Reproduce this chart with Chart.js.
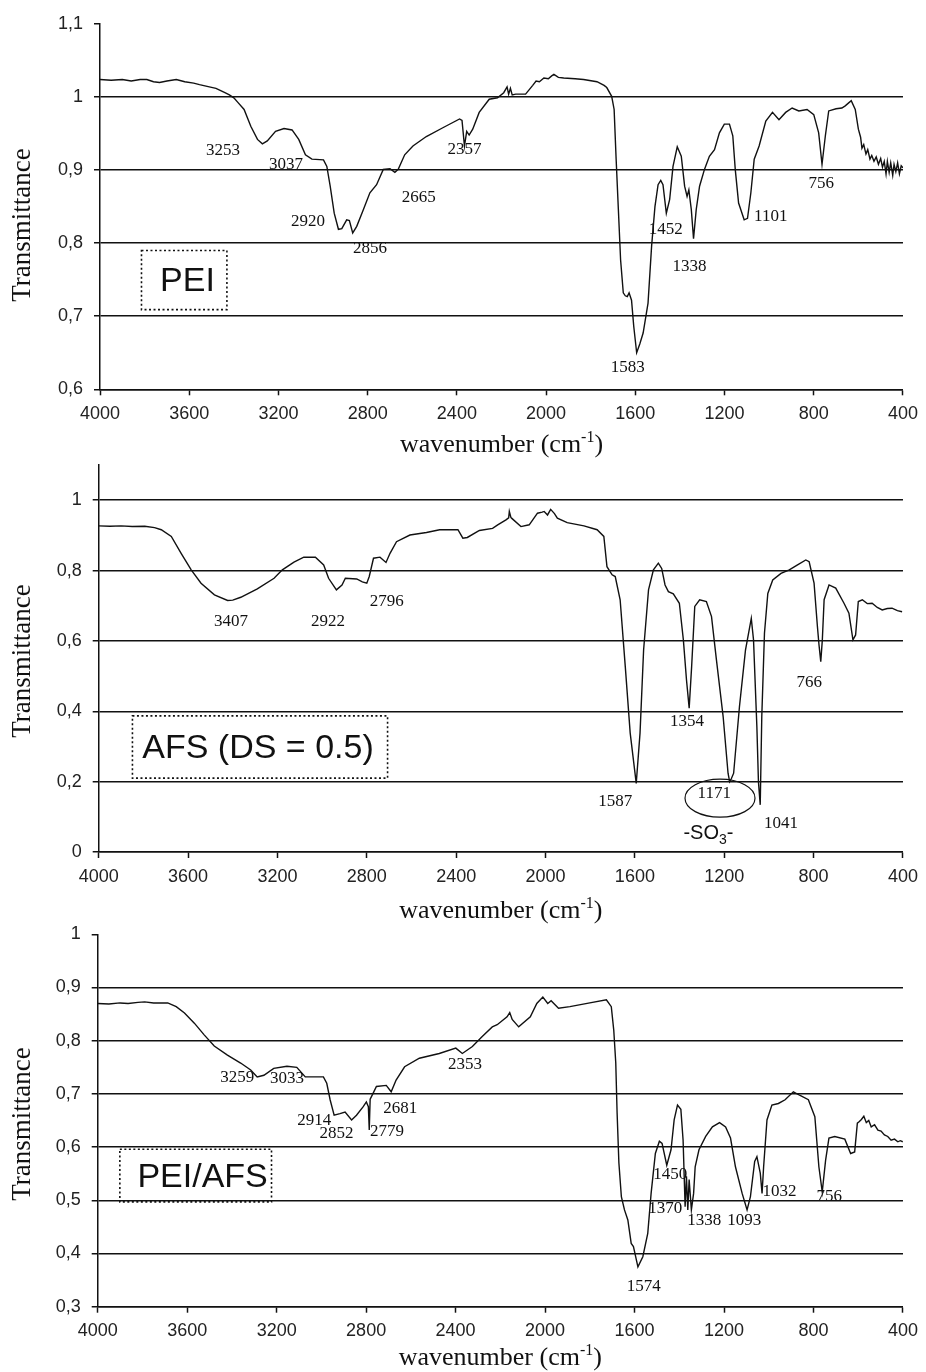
<!DOCTYPE html>
<html>
<head>
<meta charset="utf-8">
<script src="https://cdn.jsdelivr.net/npm/chart.js@4.4.1/dist/chart.umd.min.js"></script>
<style>
  html, body { margin: 0; padding: 0; background: #fff; }
  body { width: 926px; height: 1372px; position: relative; overflow: hidden; }
  .panel { position: absolute; left: 0; width: 926px; }
  canvas { display: block; }
</style>
</head>
<body>
<div class="panel" style="top:0"><canvas id="peiChart" width="926" height="462"></canvas></div>
<div class="panel" style="top:440px"><canvas id="afsChart" width="926" height="484"></canvas></div>
<div class="panel" style="top:908px"><canvas id="blendChart" width="926" height="464"></canvas></div>
<script>
// ---- spectrum data (wavenumber cm-1 / transmittance) ----
const xTicks = [4000, 3600, 3200, 2800, 2400, 2000, 1600, 1200, 800, 400];

// PEI
const peiWave = [4000, 3950, 3900, 3860, 3820, 3790, 3760, 3733, 3700, 3658, 3620, 3580, 3554, 3510, 3480, 3440, 3420, 3400, 3380, 3354,
  3324, 3294, 3272, 3250, 3213, 3175, 3139, 3109, 3079, 3050, 2998, 2983, 2968, 2950, 2931, 2916, 2894, 2882, 2867, 2849,
  2819, 2790, 2760, 2730, 2700, 2678, 2663, 2634, 2597, 2537, 2463, 2388, 2377, 2366, 2356, 2345, 2329, 2300, 2255, 2218,
  2190, 2175, 2168, 2160, 2152, 2136, 2092, 2060, 2045, 2030, 2010, 1990, 1975, 1965, 1945, 1921, 1870, 1832, 1772, 1740,
  1728, 1706, 1695, 1686, 1676, 1666, 1654, 1645, 1636, 1628, 1617, 1607, 1594, 1580, 1565, 1543, 1527, 1512, 1498, 1486,
  1476, 1461, 1446, 1431, 1412, 1394, 1379, 1368, 1360, 1349, 1339, 1327, 1312, 1290, 1268, 1245, 1223, 1201, 1178, 1163,
  1152, 1137, 1112, 1097, 1082, 1067, 1045, 1015, 985, 956, 926, 897, 867, 830, 800, 778, 763, 748, 733, 700,
  674, 659, 632, 614, 600, 590, 584, 576, 566, 558, 548, 540, 530, 520, 510, 500, 492, 484, 476, 470,
  462, 455, 446, 440, 432, 424, 416, 408, 400];
const peiT = [1.024, 1.023, 1.024, 1.022, 1.024, 1.024, 1.021, 1.020, 1.022, 1.024, 1.021, 1.019, 1.017, 1.014, 1.012, 1.006, 1.003, 0.999, 0.992, 0.983,
  0.960, 0.942, 0.936, 0.940, 0.953, 0.957, 0.955, 0.942, 0.921, 0.915, 0.914, 0.905, 0.878, 0.841, 0.819, 0.820, 0.832, 0.831, 0.814, 0.823,
  0.846, 0.869, 0.880, 0.901, 0.902, 0.897, 0.901, 0.921, 0.933, 0.946, 0.958, 0.970, 0.968, 0.933, 0.953, 0.948, 0.956, 0.979, 0.997, 0.999,
  1.006, 1.014, 1.004, 1.012, 1.003, 1.004, 1.004, 1.016, 1.022, 1.021, 1.026, 1.025, 1.029, 1.031, 1.027, 1.026, 1.025, 1.024, 1.021, 1.016,
  1.013, 1.001, 0.983, 0.915, 0.846, 0.777, 0.732, 0.728, 0.727, 0.732, 0.722, 0.686, 0.650, 0.662, 0.677, 0.718, 0.796, 0.850, 0.880, 0.886,
  0.880, 0.841, 0.860, 0.905, 0.932, 0.919, 0.878, 0.864, 0.873, 0.846, 0.806, 0.846, 0.878, 0.901, 0.919, 0.928, 0.951, 0.963, 0.963, 0.947,
  0.901, 0.855, 0.832, 0.834, 0.869, 0.915, 0.933, 0.967, 0.979, 0.969, 0.979, 0.985, 0.981, 0.983, 0.976, 0.951, 0.908, 0.947, 0.981, 0.984,
  0.985, 0.988, 0.995, 0.983, 0.956, 0.945, 0.930, 0.935, 0.922, 0.928, 0.915, 0.920, 0.912, 0.918, 0.908, 0.916, 0.904, 0.912, 0.895, 0.912,
  0.897, 0.910, 0.893, 0.908, 0.898, 0.910, 0.895, 0.906, 0.903];

// AFS (DS = 0.5)
const afsWave = [4000, 3950, 3900, 3850, 3794, 3750, 3720, 3675, 3631, 3586, 3542, 3482, 3423, 3400, 3364, 3290, 3215, 3178, 3126, 3082,
  3030, 2993, 2971, 2936, 2911, 2896, 2845, 2820, 2800, 2789, 2770, 2741, 2714, 2696, 2667, 2607, 2533, 2474, 2392, 2370,
  2350, 2296, 2237, 2214, 2177, 2165, 2162, 2155, 2152, 2110, 2073, 2036, 2015, 2006, 1991, 1977, 1960, 1947, 1903, 1828,
  1769, 1739, 1725, 1702, 1688, 1666, 1643, 1621, 1594, 1577, 1561, 1539, 1517, 1495, 1480, 1465, 1450, 1428, 1401, 1383,
  1369, 1357, 1346, 1332, 1310, 1280, 1257, 1235, 1205, 1183, 1176, 1168, 1158, 1132, 1105, 1079, 1069, 1054, 1047, 1039,
  1032, 1020, 1005, 983, 946, 909, 872, 835, 820, 798, 783, 776, 768, 761, 753, 731, 701, 664, 642, 624,
  612, 600, 582, 560, 538, 515, 493, 470, 449, 425, 404];
const afsT = [0.927, 0.926, 0.927, 0.925, 0.926, 0.922, 0.916, 0.897, 0.849, 0.802, 0.764, 0.731, 0.715, 0.716, 0.724, 0.748, 0.778, 0.802, 0.824, 0.838,
  0.838, 0.816, 0.778, 0.745, 0.759, 0.778, 0.776, 0.768, 0.764, 0.783, 0.835, 0.838, 0.823, 0.849, 0.882, 0.901, 0.908, 0.916, 0.916, 0.892,
  0.894, 0.914, 0.920, 0.930, 0.944, 0.950, 0.968, 0.951, 0.949, 0.925, 0.930, 0.963, 0.966, 0.968, 0.958, 0.974, 0.962, 0.949, 0.936, 0.927,
  0.916, 0.897, 0.811, 0.788, 0.783, 0.717, 0.527, 0.338, 0.195, 0.338, 0.574, 0.745, 0.802, 0.821, 0.806, 0.759, 0.740, 0.734, 0.707, 0.603,
  0.489, 0.409, 0.527, 0.698, 0.717, 0.712, 0.669, 0.546, 0.385, 0.224, 0.200, 0.209, 0.224, 0.413, 0.574, 0.664, 0.603, 0.356, 0.200, 0.134,
  0.385, 0.622, 0.735, 0.773, 0.792, 0.802, 0.816, 0.830, 0.825, 0.764, 0.641, 0.589, 0.541, 0.603, 0.717, 0.759, 0.750, 0.707, 0.679, 0.603,
  0.617, 0.712, 0.717, 0.706, 0.707, 0.695, 0.688, 0.692, 0.693, 0.686, 0.683];

// PEI/AFS
const blendWave = [4000, 3950, 3900, 3864, 3820, 3790, 3750, 3687, 3649, 3612, 3568, 3524, 3479, 3420, 3361, 3316, 3287, 3257, 3213, 3154,
  3110, 3072, 2991, 2976, 2961, 2943, 2917, 2894, 2865, 2843, 2813, 2799, 2790, 2786, 2782, 2769, 2754, 2710, 2688, 2666,
  2628, 2562, 2473, 2399, 2370, 2325, 2281, 2236, 2214, 2170, 2158, 2147, 2118, 2066, 2037, 2010, 1988, 1973, 1940, 1889,
  1800, 1726, 1704, 1693, 1684, 1678, 1670, 1659, 1645, 1630, 1615, 1605, 1585, 1563, 1541, 1526, 1507, 1489, 1477, 1456,
  1437, 1423, 1408, 1393, 1383, 1374, 1368, 1362, 1356, 1346, 1336, 1329, 1312, 1282, 1252, 1220, 1193, 1171, 1149, 1119,
  1097, 1082, 1063, 1053, 1038, 1030, 1023, 1008, 986, 957, 927, 890, 860, 823, 794, 776, 761, 746, 731, 705,
  660, 634, 616, 604, 595, 586, 575, 564, 553, 542, 527, 512, 498, 483, 468, 453, 438, 423, 412, 401];
const blendT = [0.870, 0.869, 0.871, 0.870, 0.872, 0.873, 0.871, 0.871, 0.864, 0.852, 0.833, 0.811, 0.790, 0.773, 0.758, 0.745, 0.732, 0.735, 0.748, 0.752,
  0.750, 0.732, 0.732, 0.720, 0.689, 0.660, 0.663, 0.666, 0.651, 0.660, 0.676, 0.685, 0.676, 0.632, 0.690, 0.701, 0.714, 0.716, 0.704, 0.726,
  0.751, 0.767, 0.776, 0.786, 0.776, 0.789, 0.808, 0.826, 0.830, 0.845, 0.853, 0.840, 0.826, 0.845, 0.870, 0.882, 0.870, 0.875, 0.861, 0.864,
  0.871, 0.877, 0.864, 0.820, 0.758, 0.664, 0.570, 0.507, 0.482, 0.463, 0.419, 0.413, 0.375, 0.394, 0.438, 0.513, 0.588, 0.611, 0.607, 0.566,
  0.595, 0.651, 0.679, 0.671, 0.613, 0.488, 0.545, 0.482, 0.539, 0.482, 0.513, 0.563, 0.595, 0.620, 0.638, 0.646, 0.638, 0.617, 0.563, 0.513,
  0.482, 0.507, 0.573, 0.582, 0.551, 0.513, 0.563, 0.651, 0.679, 0.682, 0.689, 0.704, 0.697, 0.689, 0.657, 0.563, 0.516, 0.575, 0.617, 0.620,
  0.615, 0.588, 0.591, 0.645, 0.648, 0.652, 0.658, 0.646, 0.650, 0.638, 0.642, 0.632, 0.630, 0.623, 0.620, 0.613, 0.615, 0.610, 0.612, 0.610];

// ---- peak annotations (label text, wavenumber, transmittance where it sits) ----
const peiPeakText = ['3253', '3037', '2920', '2856', '2665', '2357', '1583', '1452', '1338', '1101', '756'];
const peiPeakWave = [3448, 3166, 3068, 2790, 2571, 2366, 1634, 1464, 1357, 993, 766];
const peiPeakT = [0.927, 0.908, 0.829, 0.792, 0.863, 0.928, 0.630, 0.818, 0.768, 0.836, 0.881];

const afsPeakText = ['3407', '2922', '2796', '1587', '1171', '1354', '1041', '766'];
const afsPeakWave = [3408, 2974, 2711, 1688, 1245, 1367, 946, 820];
const afsPeakT = [0.655, 0.655, 0.712, 0.143, 0.167, 0.372, 0.082, 0.482];

const blendPeakText = ['3259', '3033', '2914', '2852', '2779', '2681', '2353', '1574', '1450', '1370', '1338', '1093', '1032', '756'];
const blendPeakWave = [3376, 3154, 3032, 2932, 2707, 2648, 2358, 1559, 1440, 1463, 1288, 1110, 952, 730];
const blendPeakT = [0.731, 0.729, 0.650, 0.626, 0.629, 0.672, 0.756, 0.338, 0.549, 0.485, 0.462, 0.462, 0.516, 0.507];

function fmtComma(v) {
    const r = Math.round(v * 10) / 10;
    return Number.isInteger(r) ? String(r) : r.toFixed(1).replace('.', ',');
}

// draws peak numbers, sample box, axis titles
function makeNotesPlugin(notes) {
    return {
        id: 'notes',
        afterDraw(chart) {
            const { ctx, scales: { x, y }, chartArea } = chart;
            ctx.save();
            ctx.fillStyle = '#111';
            ctx.strokeStyle = '#111';

            // peak numbers
            ctx.font = '17px "Liberation Serif", "Times New Roman", serif';
            ctx.textAlign = 'center';
            ctx.textBaseline = 'middle';
            notes.peakText.forEach((t, i) => {
                ctx.fillText(t, x.getPixelForValue(notes.peakWave[i]), y.getPixelForValue(notes.peakT[i]));
            });

            // dotted sample box
            const b = notes.box;
            const bx1 = x.getPixelForValue(b.w1), bx2 = x.getPixelForValue(b.w2);
            const by1 = y.getPixelForValue(b.t1), by2 = y.getPixelForValue(b.t2);
            ctx.lineWidth = 1.6;
            ctx.setLineDash([2, 2.5]);
            ctx.strokeRect(bx1, by1, bx2 - bx1, by2 - by1);
            ctx.setLineDash([]);
            ctx.font = '34px "Liberation Sans", Arial, sans-serif';
            ctx.fillText(b.text, x.getPixelForValue(b.tw), y.getPixelForValue(b.tt));

            // -SO3- group marker (AFS only)
            if (notes.ellipse) {
                const e = notes.ellipse;
                ctx.lineWidth = 1.2;
                ctx.beginPath();
                ctx.ellipse(x.getPixelForValue(e.w), y.getPixelForValue(e.t), 35, 19, 0, 0, Math.PI * 2);
                ctx.stroke();
                const sx = x.getPixelForValue(e.lw), sy = y.getPixelForValue(e.lt);
                const bigFont = '20px "Liberation Sans", Arial, sans-serif';
                const subFont = '14px "Liberation Sans", Arial, sans-serif';
                ctx.font = bigFont;
                const w1 = ctx.measureText('-SO').width;
                const w3 = ctx.measureText('-').width;
                ctx.font = subFont;
                const w2 = ctx.measureText('3').width;
                const cx = sx - (w1 + w2 + w3) / 2;
                ctx.textAlign = 'left';
                ctx.font = bigFont;
                ctx.fillText('-SO', cx, sy);
                ctx.font = subFont;
                ctx.fillText('3', cx + w1, sy + 7);
                ctx.font = bigFont;
                ctx.fillText('-', cx + w1 + w2, sy);
            }

            // y title
            ctx.save();
            ctx.translate(23, notes.yTitleAt);
            ctx.rotate(-Math.PI / 2);
            ctx.textAlign = 'center';
            ctx.textBaseline = 'middle';
            ctx.font = '27px "Liberation Serif", "Times New Roman", serif';
            ctx.fillText('Transmittance', 0, 0);
            ctx.restore();

            // x title with superscript
            const mainFont = '26px "Liberation Serif", "Times New Roman", serif';
            const supFont = '16px "Liberation Serif", "Times New Roman", serif';
            ctx.textBaseline = 'alphabetic';
            ctx.textAlign = 'left';
            ctx.font = mainFont;
            const a = ctx.measureText('wavenumber (cm').width;
            const c = ctx.measureText(')').width;
            ctx.font = supFont;
            const s = ctx.measureText('-1').width;
            const tx = (chartArea.left + chartArea.right) / 2 - (a + s + c) / 2;
            const base = notes.xTitleBase;
            ctx.font = mainFont;
            ctx.fillText('wavenumber (cm', tx, base);
            ctx.font = supFont;
            ctx.fillText('-1', tx + a, base - 10);
            ctx.font = mainFont;
            ctx.fillText(')', tx + a + s, base);

            ctx.restore();
        }
    };
}

function buildChart(canvasId, wave, trans, frame, notes) {
    const canvas = document.getElementById(canvasId);
    const H = canvas.height;
    const tickFont = { family: '"Liberation Sans", Arial, sans-serif', size: 18 };
    return new Chart(canvas.getContext('2d'), {
        type: 'line',
        data: {
            datasets: [{
                data: wave.map((w, i) => ({ x: w, y: trans[i] })),
                borderColor: '#111',
                borderWidth: 1.4,
                pointRadius: 0,
                tension: 0,
                fill: false
            }]
        },
        options: {
            responsive: false,
            animation: false,
            events: [],
            layout: { padding: { top: frame.top, right: 926 - frame.right, left: 0, bottom: 0 } },
            plugins: { legend: { display: false }, tooltip: { enabled: false } },
            scales: {
                x: {
                    type: 'linear',
                    reverse: true,
                    min: 400,
                    max: 4000,
                    afterBuildTicks: scale => { scale.ticks = xTicks.map(v => ({ value: v })); },
                    ticks: { color: '#222', font: tickFont, padding: 8, maxRotation: 0, autoSkip: false, callback: v => String(v) },
                    grid: { drawOnChartArea: false, drawTicks: true, tickLength: 6, tickColor: '#111', tickWidth: 1.5 },
                    border: { display: true, color: '#111', width: 1.5 },
                    afterFit: scale => { scale.height = H - frame.bottom; }
                },
                y: {
                    min: frame.yMin,
                    max: frame.yMax,
                    ticks: { stepSize: frame.yStep, includeBounds: frame.includeBounds, color: '#222', font: tickFont, padding: 11, callback: fmtComma },
                    grid: {
                        color: c => (c.tick && Math.abs(c.tick.value - frame.yMax) < 1e-6) ? 'rgba(0,0,0,0)' : '#111',
                        lineWidth: 1.5,
                        drawTicks: true,
                        tickLength: 6,
                        tickColor: '#111',
                        tickWidth: 1.5
                    },
                    border: { display: true, color: '#111', width: 1.5 },
                    afterFit: scale => { scale.width = frame.left; }
                }
            }
        },
        plugins: [makeNotesPlugin(notes)]
    });
}

buildChart('peiChart', peiWave, peiT,
    { top: 24, bottom: 389.3, left: 100, right: 908, yMin: 0.6, yMax: 1.1, yStep: 0.1, includeBounds: true },
    {
        peakText: peiPeakText, peakWave: peiPeakWave, peakT: peiPeakT,
        box: { text: 'PEI', w1: 3814, w2: 3431, t1: 0.790, t2: 0.709, tw: 3608, tt: 0.747 },
        yTitleAt: 225, xTitleBase: 452
    });

buildChart('afsChart', afsWave, afsT,
    { top: 25, bottom: 412, left: 98.7, right: 907.7, yMin: 0, yMax: 1.1, yStep: 0.2, includeBounds: false },
    {
        peakText: afsPeakText, peakWave: afsPeakWave, peakT: afsPeakT,
        box: { text: 'AFS (DS = 0.5)', w1: 3849, w2: 2707, t1: 0.387, t2: 0.210, tw: 3287, tt: 0.293 },
        ellipse: { w: 1219, t: 0.153, lw: 1271, lt: 0.053 },
        yTitleAt: 221, xTitleBase: 478
    });

buildChart('blendChart', blendWave, blendT,
    { top: 26.3, bottom: 398.7, left: 97.7, right: 908.7, yMin: 0.3, yMax: 1.0, yStep: 0.1, includeBounds: true },
    {
        peakText: blendPeakText, peakWave: blendPeakWave, peakT: blendPeakT,
        box: { text: 'PEI/AFS', w1: 3901, w2: 3223, t1: 0.596, t2: 0.497, tw: 3531, tt: 0.543 },
        yTitleAt: 216, xTitleBase: 457
    });
</script>
</body>
</html>
